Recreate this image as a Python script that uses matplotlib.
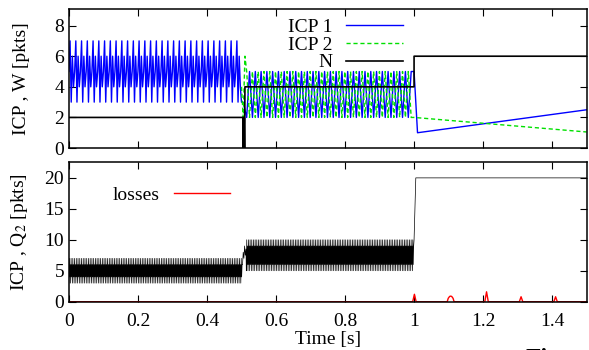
import numpy as np
import matplotlib.pyplot as plt

plt.rcParams['font.family'] = ['Liberation Serif', 'DejaVu Serif']
plt.rcParams['mathtext.fontset'] = 'stix'
plt.rcParams['font.size'] = 14

# ---- top panel: windows of the two ICP flows and N ----
# 0 - 0.5 s : ICP 1 alone, one oscillation
icp1_cycle_a = [5, 7, 3, 6, 4]
cycles_a = 30
# transition around 0.5 s
icp1_trans_t = [0.5, 0.505, 0.51]
icp1_trans_v = [3, 3, 2.5]
icp2_trans_t = [0.5, 0.505, 0.51]
icp2_trans_v = [4, 2, 6]
# 0.515 - 1 s : both flows alternate between 2 and 5
icp1_cycle_b = [2, 5]
icp2_cycle_b = [5, 2]
cycles_b = 29
# 1 - 1.5 s : slow drift after the switch
icp1_end_t = [1.0, 1.01, 1.5]
icp1_end_v = [5, 1, 2.5]
icp2_end_t = [1.0, 1.5]
icp2_end_v = [2, 1.05]

n_t = [0, 0.504, 0.505, 0.506, 0.507, 0.508, 0.509, 0.51, 1.0, 1.0, 1.5]
n_v = [2, 2, 0, 2, 0, 2, 0, 4, 4, 6, 6]

# ---- bottom panel: queue Q2 and losses ----
q2_cycle_a = [3, 7, 4, 6]
q2_cycles_a = 100
q2_trans_t = [0.503, 0.505, 0.507, 0.509, 0.511, 0.513]
q2_trans_v = [6, 8, 7, 9, 7.5, 8.5]
q2_cycle_b = [5, 10, 6, 9]
q2_cycles_b = 100
q2_end_t = [1.0, 1.005, 1.5]
q2_end_v = [10, 20, 20]

loss_t = [0, 0.996, 1.001, 1.006, 1.096, 1.099, 1.103, 1.106, 1.109, 1.113, 1.116,
          1.205, 1.21, 1.215, 1.305, 1.31, 1.315, 1.405, 1.41, 1.415, 1.5]
loss_v = [0, 0, 1.2, 0, 0, 0.55, 0.85, 0.9, 0.85, 0.55, 0,
          0, 1.6, 0, 0, 0.8, 0, 0, 0.8, 0, 0]


def repeat_cycle(t0, t1, cycle, n):
    v = np.tile(cycle, n)
    t = np.linspace(t0, t1, len(v), endpoint=False)
    return t, v


t1a, v1a = repeat_cycle(0, 0.5, icp1_cycle_a, cycles_a)
t1b, v1b = repeat_cycle(0.515, 1.0, icp1_cycle_b, cycles_b)
t2b, v2b = repeat_cycle(0.515, 1.0, icp2_cycle_b, cycles_b)
icp1_t = np.concatenate([t1a, icp1_trans_t, t1b, icp1_end_t])
icp1_v = np.concatenate([v1a, icp1_trans_v, v1b, icp1_end_v])
icp2_t = np.concatenate([icp2_trans_t, t2b, icp2_end_t])
icp2_v = np.concatenate([icp2_trans_v, v2b, icp2_end_v])

tqa, vqa = repeat_cycle(0, 0.503, q2_cycle_a, q2_cycles_a)
tqb, vqb = repeat_cycle(0.514, 1.0, q2_cycle_b, q2_cycles_b)
q2_t = np.concatenate([tqa, q2_trans_t, tqb, q2_end_t])
q2_v = np.concatenate([vqa, q2_trans_v, vqb, q2_end_v])

fig = plt.figure(figsize=(5.89, 3.5), dpi=100)
ax1 = fig.add_axes([0.117, 0.577, 0.879, 0.398])
ax2 = fig.add_axes([0.117, 0.138, 0.879, 0.398])

ax1.plot(icp1_t, icp1_v, color='#0000ff', lw=1, label='ICP 1')
ax1.plot(icp2_t, icp2_v, color='#00e000', lw=1, dashes=(3, 2), label='ICP 2')
ax1.plot(n_t, n_v, color='black', lw=1.2, label='N')
ax1.set_ylim(0, 9.1)
ax1.set_yticks([0, 2, 4, 6, 8])
ax1.set_ylabel('ICP , W [pkts]')
ax1.legend(loc='upper right', bbox_to_anchor=(0.645, 0.93), frameon=False,
           markerfirst=False, handlelength=2.9, handletextpad=0.7,
           labelspacing=0.0, borderpad=0, borderaxespad=0)

ax2.plot(q2_t, q2_v, color='black', lw=0.5)
ax2.plot(loss_t, loss_v, color='red', lw=1, label='losses')
ax2.set_ylim(0, 22.5)
ax2.set_yticks([0, 5, 10, 15, 20])
ax2.set_ylabel('ICP , Q$_2$ [pkts]')
ax2.set_xlabel('Time [s]', labelpad=1)
ax2.legend(loc='upper right', bbox_to_anchor=(0.311, 0.83), frameon=False,
           markerfirst=False, handlelength=2.9, handletextpad=0.7,
           borderpad=0, borderaxespad=0)

for ax in (ax1, ax2):
    ax.set_xlim(0, 1.5)
    ax.set_xticks([0, 0.2, 0.4, 0.6, 0.8, 1, 1.2, 1.4])
    ax.tick_params(direction='in', top=True, right=True, length=5, width=0.8)
    ax.tick_params(axis='x', pad=8)
    ax.yaxis.set_label_coords(-0.075, 0.5)
    for s in ax.spines.values():
        s.set_linewidth(1.1)
ax1.set_xticklabels([])
ax2.set_xticklabels(['0', '0.2', '0.4', '0.6', '0.8', '1', '1.2', '1.4'])

# top of the caption below the figure, cut off in the original
fig.text(0.892, 0.005, 'Fig', fontsize=18, weight='bold', va='top')

fig.savefig('out.png', dpi=100)
